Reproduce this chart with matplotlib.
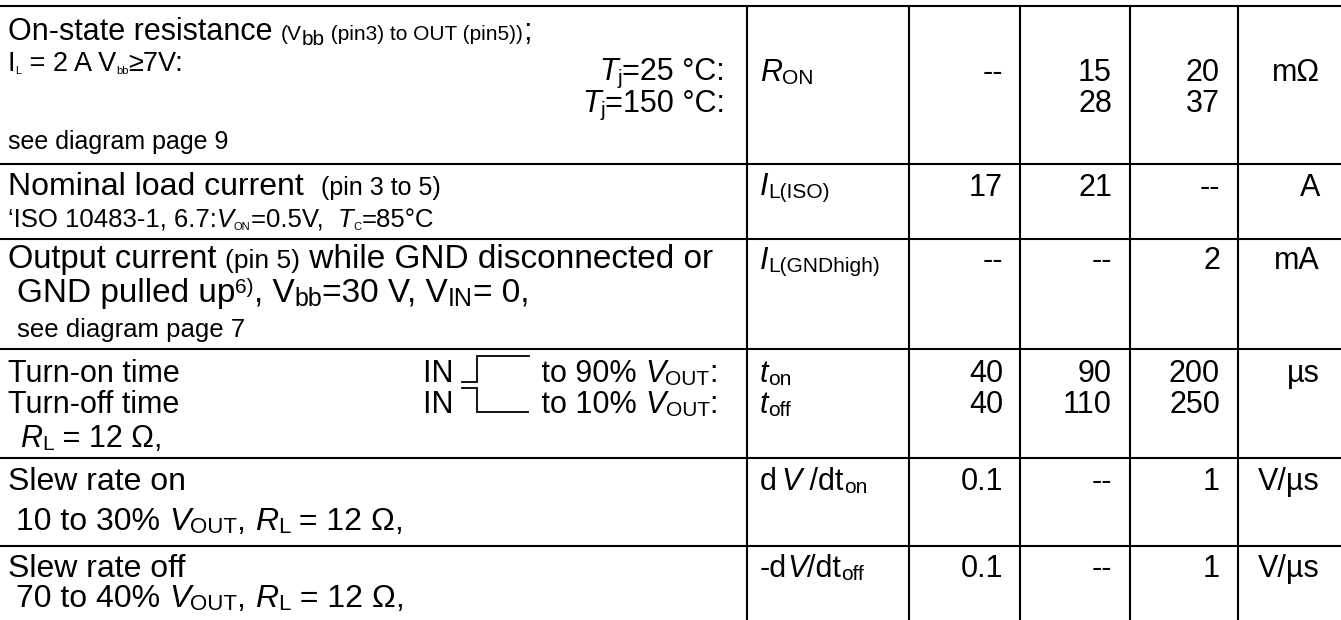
import matplotlib
matplotlib.use("Agg")
import matplotlib.pyplot as plt

plt.rcParams['font.family'] = ['Liberation Sans', 'DejaVu Sans']

# table values (min / typ / max / unit per parameter row)
min_vals = [["--"], ["17"], ["--"], ["40", "40"], ["0.1"], ["0.1"]]
typ_vals = [["15", "28"], ["21"], ["--"], ["90", "110"], ["--"], ["--"]]
max_vals = [["20", "37"], ["--"], ["2"], ["200", "250"], ["1"], ["1"]]
units = ["mΩ", "A", "mA", "µs", "V/µs", "V/µs"]

# layout (pixels, y downwards)
W, H = 1341, 620
row_lines = [6, 164, 239, 349, 458, 546]
col_lines = [747, 909, 1020, 1130, 1238]
val_right = [1003, 1112, 1220]
unit_right = 1320
val_base = [[81, 112], [196], [269], [382, 413], [490], [577]]

B = 22   # main font size
S = 15   # subscript size

fig = plt.figure(figsize=(W / 100, H / 100), dpi=100)
ax = fig.add_axes([0, 0, 1, 1])
ax.set_xlim(0, W)
ax.set_ylim(H, 0)
ax.axis('off')
renderer = fig.canvas.get_renderer()


def ext(s, size, it):
    t = ax.text(0, 0, s, fontsize=size, style='italic' if it else 'normal')
    w = t.get_window_extent(renderer).width
    t.remove()
    return w


def run_width(r):
    txt, size, it, dy = r
    if txt in ("RISE", "FALL"):
        return size
    return ext("|" + txt + "|", size, it) - ext("||", size, it)


def draw_step(x, y, kind):
    if kind == "RISE":
        ax.plot([x, x + 15, x + 15, x + 67], [y, y, y - 26, y - 26],
                color='black', lw=1.3, solid_joinstyle='miter')
    else:
        ax.plot([x, x + 15, x + 15, x + 66], [y - 25, y - 25, y - 1, y - 1],
                color='black', lw=1.3, solid_joinstyle='miter')


def draw_runs(x, y, runs, ha='left'):
    widths = [run_width(r) for r in runs]
    if ha == 'right':
        x = x - sum(widths)
    for r, w in zip(runs, widths):
        txt, size, it, dy = r
        if txt in ("RISE", "FALL"):
            draw_step(x, y, txt)
        else:
            ax.text(x, y + dy, txt, fontsize=size, va='baseline', ha='left',
                    style='italic' if it else 'normal')
        x += w


def n(s, size=B, dy=0):
    return (s, size, False, dy)


def i(s, size=B, dy=0):
    return (s, size, True, dy)


def sub(s, size=S, dy=3):
    return (s, size, False, dy)


# grid lines
for y in row_lines:
    ax.plot([0, W], [y, y], color='black', lw=1.5, solid_capstyle='butt')
for x in col_lines:
    ax.plot([x, x], [row_lines[0], H], color='black', lw=1.5, solid_capstyle='butt')

# description column
draw_runs(8, 40, [n("On-state resistance "), n("(V", S), n("bb", S, 5),
                  n(" (pin3) to OUT (pin5))", S), n(";")])
draw_runs(8, 71, [n("I", 19.5), sub("L", 8, 3), n(" = 2 A V", 19.5), sub("bb", 8, 3),
                  n("≥7V:", 19.5)])
draw_runs(725, 80, [i("T"), sub("j", S, 4), n("=25 °C:")], ha='right')
draw_runs(725, 112, [i("T"), sub("j", S, 4), n("=150 °C:")], ha='right')
draw_runs(8, 149, [n("see diagram page 9", 18)])

draw_runs(8, 195, [n("Nominal load current  ", 23), n("(pin 3 to 5)", 18)])
draw_runs(8, 227, [n("‘ISO 10483-1, 6.7:", 18.5), i("V", 18.5), sub("ON", 8, 3),
                   n("=0.5V,  ", 18.5), i("T", 18.5), sub("C", 8, 3),
                   n("=85°C", 18.5)])

draw_runs(8, 268, [n("Output current ", 23.5), n("(pin 5)", 19),
                   n(" while GND disconnected or", 24)])
draw_runs(17, 302, [n("GND pulled up", 24), n("6)", 15, -9), n(", V", 24),
                    sub("bb", 18, 4), n("=30 V, V", 24), sub("IN", 18, 4),
                    n("= 0,", 24)])
draw_runs(17, 337, [n("see diagram page 7", 18.5)])

draw_runs(8, 382, [n("Turn-on time")])
draw_runs(8, 413, [n("Turn-off time")])
draw_runs(423, 382, [n("IN "), ("RISE", 71, False, 0), n(" to 90% "), i("V"),
                     sub("OUT"), n(":")])
draw_runs(423, 413, [n("IN "), ("FALL", 71, False, 0), n(" to 10% "), i("V"),
                     sub("OUT"), n(":")])
draw_runs(20, 447, [i("R"), sub("L"), n(" = 12 Ω,")])

draw_runs(8, 490, [n("Slew rate on", 23)])
draw_runs(16, 530, [n("10 to 30% ", 23), i("V", 23), sub("OUT", 16), n(", ", 23),
                    i("R", 23), sub("L", 16), n(" = 12 Ω,", 23)])
draw_runs(8, 577, [n("Slew rate off", 23)])
draw_runs(16, 607, [n("70 to 40% ", 23), i("V", 23), sub("OUT", 16), n(", ", 23),
                    i("R", 23), sub("L", 16), n(" = 12 Ω,", 23)])

# symbol column
sx = 760
draw_runs(sx, 81, [i("R"), sub("ON")])
draw_runs(sx, 195, [i("I"), sub("L(ISO)")])
draw_runs(sx, 269, [i("I"), sub("L(GNDhigh)")])
draw_runs(sx, 382, [i("t"), sub("on")])
draw_runs(sx, 413, [i("t"), sub("off")])
draw_runs(sx, 490, [n("d"), n(" ", 11), i("V"), n(" /dt"), sub("on")])
draw_runs(sx, 577, [n("-d"), i("V"), n("/dt"), sub("off")])

# min / typ / max / unit columns
for r in range(len(units)):
    for col, vals in enumerate([min_vals, typ_vals, max_vals]):
        for k, v in enumerate(vals[r]):
            ax.text(val_right[col], val_base[r][k], v, fontsize=B,
                    ha='right', va='baseline')
    ax.text(unit_right, val_base[r][0], units[r], fontsize=B,
            ha='right', va='baseline')

fig.savefig("out.png", dpi=100)
